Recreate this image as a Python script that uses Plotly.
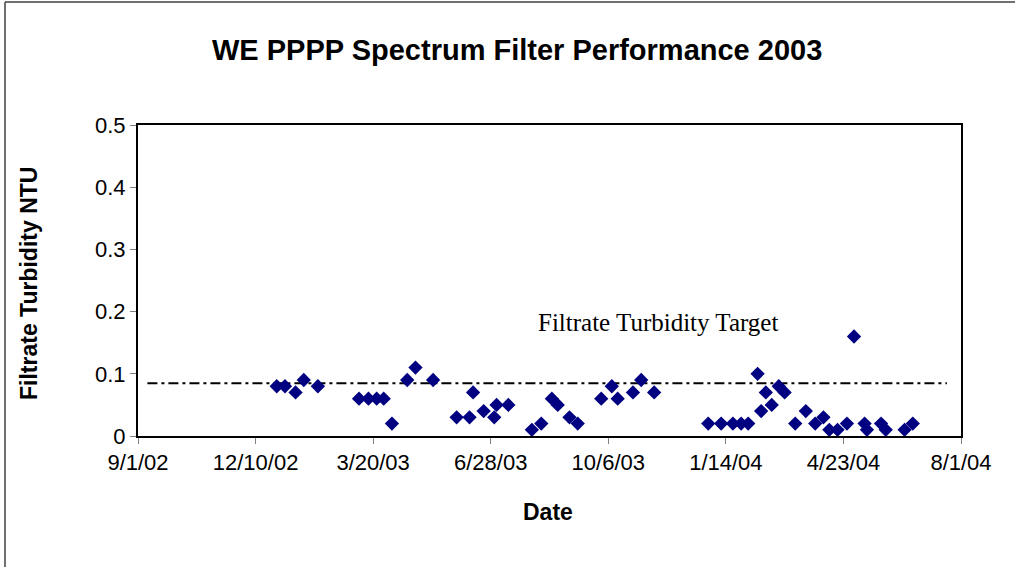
import plotly.graph_objects as go

# ---- data ----
dates = [
    "2002-12-28", "2003-01-04", "2003-01-13", "2003-01-20", "2003-02-01",
    "2003-03-08", "2003-03-16", "2003-03-23", "2003-03-29", "2003-04-05",
    "2003-04-18", "2003-04-25", "2003-05-10", "2003-05-30", "2003-06-10",
    "2003-06-13", "2003-06-22", "2003-07-01", "2003-07-03", "2003-07-13",
    "2003-08-02", "2003-08-10", "2003-08-19", "2003-08-24", "2003-09-03",
    "2003-09-10", "2003-09-30", "2003-10-09", "2003-10-14", "2003-10-27",
    "2003-11-03", "2003-11-14", "2003-12-30", "2004-01-10", "2004-01-20",
    "2004-01-27", "2004-02-02", "2004-02-10", "2004-02-13", "2004-02-17",
    "2004-02-22", "2004-02-28", "2004-03-04", "2004-03-13", "2004-03-22",
    "2004-03-30", "2004-04-06", "2004-04-11", "2004-04-18", "2004-04-26",
    "2004-05-02", "2004-05-11", "2004-05-13", "2004-05-25", "2004-05-29",
    "2004-06-14", "2004-06-21",
]
turbidity = [
    0.08, 0.08, 0.07, 0.09, 0.08,
    0.06, 0.06, 0.06, 0.06, 0.02,
    0.09, 0.11, 0.09, 0.03, 0.03,
    0.07, 0.04, 0.03, 0.05, 0.05,
    0.01, 0.02, 0.06, 0.05, 0.03,
    0.02, 0.06, 0.08, 0.06, 0.07,
    0.09, 0.07, 0.02, 0.02, 0.02,
    0.02, 0.02, 0.10, 0.04, 0.07,
    0.05, 0.08, 0.07, 0.02, 0.04,
    0.02, 0.03, 0.01, 0.01, 0.02,
    0.16, 0.02, 0.01, 0.02, 0.01,
    0.01, 0.02,
]
target_dates = ["2002-09-09", "2004-07-20"]
target_values = [0.085, 0.085]

x_tick_vals = ["2002-09-01", "2002-12-10", "2003-03-20", "2003-06-28",
               "2003-10-06", "2004-01-14", "2004-04-23", "2004-08-01"]
x_tick_text = ["9/1/02", "12/10/02", "3/20/03", "6/28/03",
               "10/6/03", "1/14/04", "4/23/04", "8/1/04"]
y_tick_vals = [0, 0.1, 0.2, 0.3, 0.4, 0.5]
y_tick_text = ["0", "0.1", "0.2", "0.3", "0.4", "0.5"]

W, H = 1015, 567
PL, PR, PT, PB = 138, 961, 125, 436          # plot box in window pixels
L, T = PL, PT
R, B = W - PR, H - PB
pw, ph = PR - PL, PB - PT


def px(xw):
    return (xw - PL) / pw


def py(yw):
    return (PB - yw) / ph


fig = go.Figure()
fig.add_trace(go.Scatter(
    x=target_dates, y=target_values, mode="lines",
    line=dict(color="black", width=2, dash="10px,4px,3px,4px"),
    showlegend=False, hoverinfo="skip",
))
fig.add_trace(go.Scatter(
    x=dates, y=turbidity, mode="markers",
    marker=dict(symbol="diamond", size=11, color="#000080", line=dict(width=0)),
    showlegend=False,
))

sans = "Liberation Sans, Arial, sans-serif"
axis_font = dict(family=sans, size=22, color="black")

fig.update_layout(
    width=W, height=H,
    margin=dict(l=L, r=R, t=T, b=B),
    paper_bgcolor="white", plot_bgcolor="white",
    xaxis=dict(
        type="date", range=["2002-09-01", "2004-08-01"],
        tickmode="array", tickvals=x_tick_vals, ticktext=x_tick_text,
        ticks="outside", ticklen=6, tickcolor="#808080", tickwidth=1,
        showline=True, linecolor="black", linewidth=2, mirror=True,
        showgrid=False, zeroline=False, tickfont=axis_font,
    ),
    yaxis=dict(
        range=[0, 0.5], tickmode="array", tickvals=y_tick_vals, ticktext=y_tick_text,
        ticks="outside", ticklen=6, tickcolor="#808080", tickwidth=1,
        showline=True, linecolor="black", linewidth=2, mirror=True,
        showgrid=False, zeroline=False, tickfont=axis_font,
    ),
    annotations=[
        dict(text="<b>WE PPPP Spectrum Filter Performance 2003</b>",
             xref="paper", yref="paper", x=px(517), y=py(50),
             showarrow=False, xanchor="center", yanchor="middle",
             font=dict(family=sans, size=29, color="black")),
        dict(text="<b>Date</b>", xref="paper", yref="paper",
             x=px(548), y=py(512), showarrow=False,
             xanchor="center", yanchor="middle",
             font=dict(family=sans, size=23, color="black")),
        dict(text="<b>Filtrate Turbidity NTU</b>", xref="paper", yref="paper",
             x=px(29), y=py(284), showarrow=False, textangle=-90,
             xanchor="center", yanchor="middle",
             font=dict(family=sans, size=23, color="black")),
        dict(text="Filtrate Turbidity Target", xref="paper", yref="paper",
             x=px(658), y=py(322), showarrow=False,
             xanchor="center", yanchor="middle",
             font=dict(family="Liberation Serif, Times New Roman, serif", size=25, color="black")),
    ],
    shapes=[
        # outer chart frame: only its top and left edges fall inside the picture
        dict(type="line", xref="paper", yref="paper",
             x0=px(5), x1=px(1015), y0=py(2), y1=py(2),
             line=dict(color="#404040", width=1.5), layer="below"),
        dict(type="line", xref="paper", yref="paper",
             x0=px(5), x1=px(5), y0=py(2), y1=py(567),
             line=dict(color="#404040", width=1.5), layer="below"),
    ],
)

fig.write_html(
    "out.html",
    config={"displayModeBar": False},
    post_script="document.body.style.margin='0px';document.body.style.overflow='hidden';",
)
